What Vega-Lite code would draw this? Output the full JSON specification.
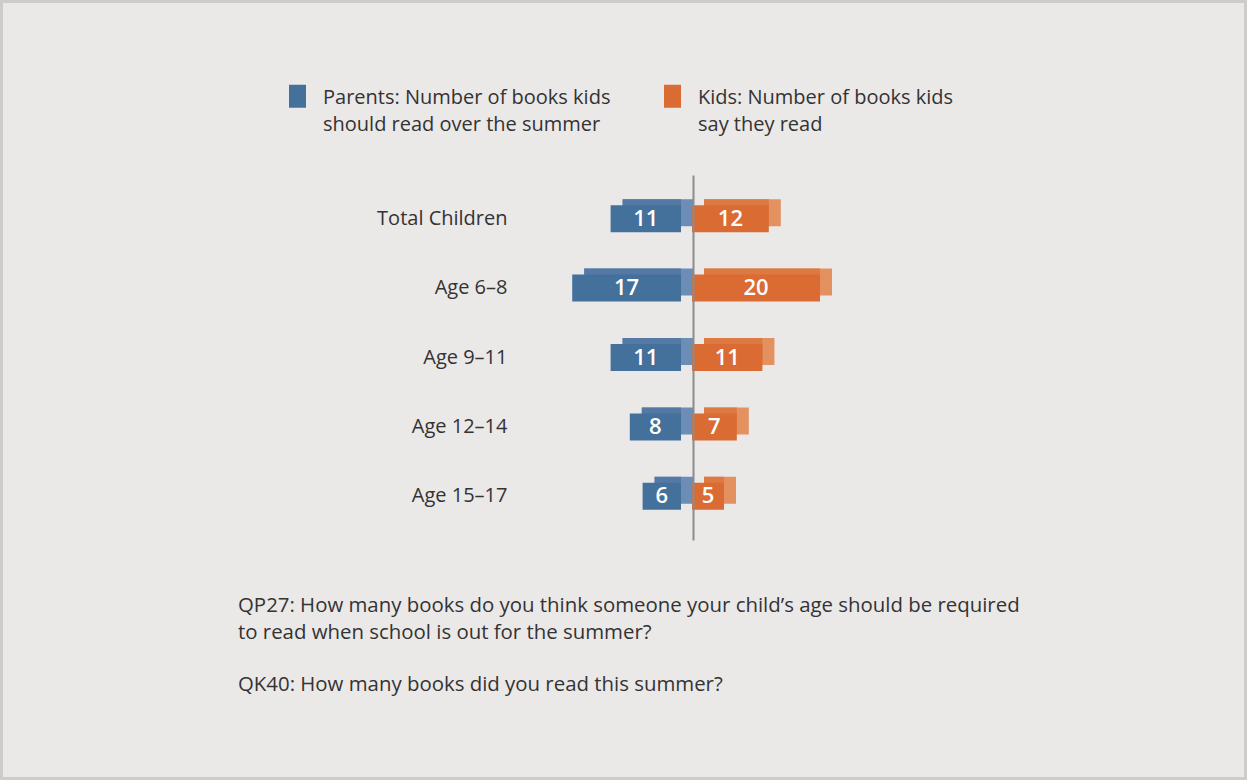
{
  "$schema": "https://vega.github.io/schema/vega-lite/v6.json",
  "width": 1247,
  "height": 780,
  "autosize": {"type": "none"},
  "padding": 0,
  "background": "#ebe8e8",
  "config": {
    "view": {"fill": "#ebe8e8", "stroke": "#d0cbcb", "strokeWidth": 6},
    "font": "Open Sans",
    "style": {"guide-label": {"lineHeight": 27}}
  },
  "title": {
    "text": ["QP27: How many books do you think someone your child’s age should be required", "to read when school is out for the summer?"],
    "subtitle": "QK40: How many books did you read this summer?",
    "orient": "bottom",
    "anchor": "start",
    "frame": "group",
    "dx": 238,
    "dy": -168,
    "offset": 0,
    "baseline": "alphabetic",
    "fontSize": 20.4,
    "fontWeight": "normal",
    "color": "#333333",
    "lineHeight": 26.7,
    "subtitleFontSize": 20.4,
    "subtitleFontWeight": "normal",
    "subtitleColor": "#333333",
    "subtitleFont": "Open Sans",
    "subtitlePadding": 32
  },
  "data": {
    "values": [
      {"group": "Total Children", "who": "Parents", "value": 11},
      {"group": "Total Children", "who": "Kids", "value": 12},
      {"group": "Age 6–8", "who": "Parents", "value": 17},
      {"group": "Age 6–8", "who": "Kids", "value": 20},
      {"group": "Age 9–11", "who": "Parents", "value": 11},
      {"group": "Age 9–11", "who": "Kids", "value": 11},
      {"group": "Age 12–14", "who": "Parents", "value": 8},
      {"group": "Age 12–14", "who": "Kids", "value": 7},
      {"group": "Age 15–17", "who": "Parents", "value": 6},
      {"group": "Age 15–17", "who": "Kids", "value": 5}
    ]
  },
  "encoding": {
    "y": {
      "field": "group",
      "type": "nominal",
      "sort": ["Total Children", "Age 6–8", "Age 9–11", "Age 12–14", "Age 15–17"],
      "scale": {"range": [175, 540], "paddingInner": 0, "paddingOuter": 0.13},
      "axis": {
        "title": null,
        "offset": -693,
        "domain": true,
        "domainColor": "#8c8c8c",
        "domainWidth": 2,
        "ticks": false,
        "tickSize": 0,
        "labelPadding": 186,
        "labelFontSize": 20,
        "labelColor": "#333333",
        "labelAlign": "right",
        "grid": false,
        "zindex": 1
      }
    }
  },
  "layer": [
    {
      "transform": [{"filter": "datum.who === 'Parents'"}],
      "encoding": {
        "x": {"field": "value", "type": "quantitative", "scale": {"domain": [-86.56, 108.28], "reverse": true, "nice": false, "zero": false}, "axis": null},
        "x2": {"datum": 0}
      },
      "layer": [
        {"mark": {"type": "bar", "size": 27, "fill": "#6b8db6", "xOffset": 0, "x2Offset": 0, "yOffset": -6, "y2Offset": -6}},
        {"mark": {"type": "bar", "size": 27, "fill": "#5479a4", "xOffset": 0, "x2Offset": -12, "yOffset": -6, "y2Offset": -6}},
        {
          "mark": {"type": "bar", "size": 27, "xOffset": -12, "x2Offset": -12},
          "encoding": {
            "color": {
              "field": "who",
              "type": "nominal",
              "scale": {"domain": ["Parents", "Kids"], "range": ["#44709c", "#d96b33"]},
              "legend": {
                "orient": "none",
                "legendX": 286,
                "legendY": 92,
                "direction": "horizontal",
                "title": null,
                "labelExpr": "datum.value === 'Parents' ? ['Parents: Number of books kids', 'should read over the summer'] : ['Kids: Number of books kids', 'say they read']",
                "labelFontSize": 20,
                "labelColor": "#333333",
                "labelLimit": 500,
                "labelBaseline": "alphabetic",
                "labelOffset": 14,
                "symbolType": "M-0.74,-1.652h1.48v2h-1.48z",
                "symbolSize": 529,
                "symbolStrokeWidth": 0,
                "symbolOpacity": 1,
                "columnPadding": 50
              }
            }
          }
        }
      ]
    },
    {
      "transform": [{"filter": "datum.who === 'Kids'"}],
      "encoding": {
        "x": {"field": "value", "type": "quantitative", "scale": {"domain": [-108.28, 86.56], "nice": false, "zero": false}, "axis": null},
        "x2": {"datum": 0}
      },
      "layer": [
        {"mark": {"type": "bar", "size": 27, "fill": "#e3915f", "xOffset": 11, "x2Offset": 11, "yOffset": -6, "y2Offset": -6}},
        {"mark": {"type": "bar", "size": 27, "fill": "#dd7a43", "xOffset": -1, "x2Offset": 11, "yOffset": -6, "y2Offset": -6}},
        {
          "mark": {"type": "bar", "size": 27, "xOffset": -1, "x2Offset": -1},
          "encoding": {"color": {"field": "who", "type": "nominal"}}
        }
      ]
    },
    {
      "transform": [{"filter": "datum.who === 'Parents'"}],
      "mark": {"type": "text", "color": "white", "fontSize": 22, "fontWeight": 600, "baseline": "middle", "align": "center", "dx": -12},
      "encoding": {
        "x": {"field": "value", "type": "quantitative", "scale": {"domain": [-173.12, 216.56], "reverse": true, "nice": false, "zero": false}, "axis": null},
        "text": {"field": "value", "type": "quantitative"}
      }
    },
    {
      "transform": [{"filter": "datum.who === 'Kids'"}],
      "mark": {"type": "text", "color": "white", "fontSize": 22, "fontWeight": 600, "baseline": "middle", "align": "center", "dx": -1},
      "encoding": {
        "x": {"field": "value", "type": "quantitative", "scale": {"domain": [-216.56, 173.12], "nice": false, "zero": false}, "axis": null},
        "text": {"field": "value", "type": "quantitative"}
      }
    }
  ],
  "resolve": {"scale": {"x": "independent"}}
}
